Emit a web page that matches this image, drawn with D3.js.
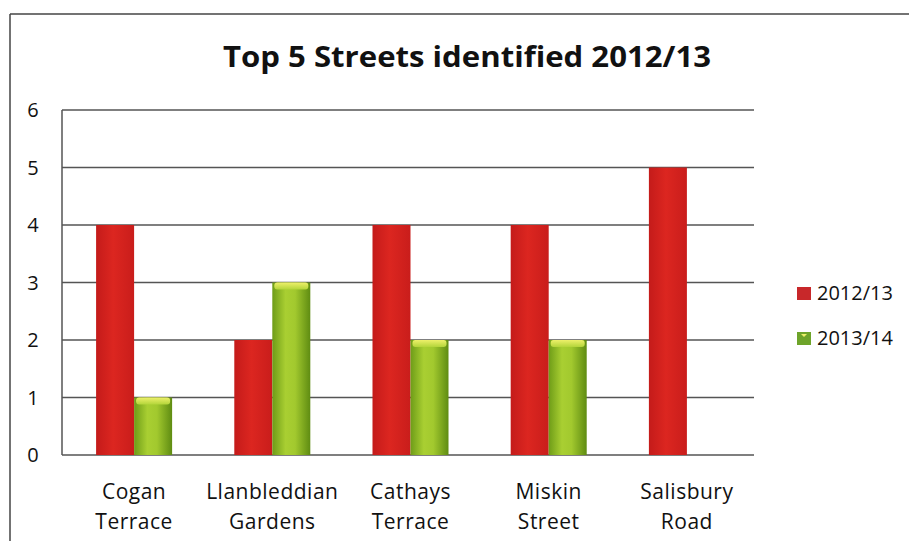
<!DOCTYPE html>
<html>
<head>
<meta charset="utf-8">
<script src="https://cdn.jsdelivr.net/npm/d3@7"></script>
<style>
  body { margin: 0; background: #fff; }
  svg { display: block; }
  text { font-family: "Open Sans", "DejaVu Sans", sans-serif; fill: #111; }
</style>
</head>
<body>
<svg id="chart" width="909" height="541"></svg>
<script>
// data
const streets = [["Cogan", "Terrace"], ["Llanbleddian", "Gardens"], ["Cathays", "Terrace"], ["Miskin", "Street"], ["Salisbury", "Road"]];
const seriesNames = ["2012/13", "2013/14"];
const values1213 = [4, 2, 4, 4, 5];
const values1314 = [1, 3, 2, 2, 0];
const yTicks = [0, 1, 2, 3, 4, 5, 6];

const svg = d3.select("#chart");

// outer frame (top and left edge only, like the scan)
svg.append("line").attr("x1", 10).attr("y1", 14).attr("x2", 909).attr("y2", 14)
    .attr("stroke", "#444").attr("stroke-width", 1.5);
svg.append("line").attr("x1", 10).attr("y1", 14).attr("x2", 10).attr("y2", 541)
    .attr("stroke", "#444").attr("stroke-width", 1.5);

// title
svg.append("text")
    .attr("x", 467).attr("y", 67)
    .attr("text-anchor", "middle")
    .style("font-size", "29px").style("font-weight", "bold")
    .attr("textLength", 488).attr("lengthAdjust", "spacingAndGlyphs")
    .text("Top 5 Streets identified 2012/13");

const plotLeft = 62, plotRight = 754;
const y = d3.scaleLinear().domain([0, 6]).range([455, 110]);
const x0 = d3.scaleBand().domain(d3.range(streets.length)).range([65, 756]).paddingInner(0.45).paddingOuter(0.225);
const x1 = d3.scaleBand().domain(seriesNames).range([0, x0.bandwidth()]);

// gradients for bars
const defs = svg.append("defs");
const redGrad = defs.append("linearGradient").attr("id", "redGrad");
[["0%", "#c41b1a"], ["45%", "#dc2620"], ["100%", "#c91d1b"]].forEach(([o, c]) =>
    redGrad.append("stop").attr("offset", o).attr("stop-color", c));
const greenGrad = defs.append("linearGradient").attr("id", "greenGrad");
[["0%", "#6e9c18"], ["35%", "#a9cf32"], ["60%", "#a2c92e"], ["100%", "#5f8c12"]].forEach(([o, c]) =>
    greenGrad.append("stop").attr("offset", o).attr("stop-color", c));
const greenTop = defs.append("linearGradient").attr("id", "greenTop").attr("x1", 0).attr("y1", 0).attr("x2", 0).attr("y2", 1);
[["0%", "#eef06a"], ["100%", "#b3d53a"]].forEach(([o, c]) =>
    greenTop.append("stop").attr("offset", o).attr("stop-color", c));

// gridlines
svg.append("g").selectAll("line").data(yTicks).enter().append("line")
    .attr("x1", plotLeft).attr("x2", plotRight)
    .attr("y1", (d) => y(d)).attr("y2", (d) => y(d))
    .attr("stroke", "#555").attr("stroke-width", 1.5);
svg.append("line").attr("x1", plotLeft).attr("x2", plotLeft).attr("y1", y(6)).attr("y2", y(0))
    .attr("stroke", "#555").attr("stroke-width", 1.5);

// y tick labels
svg.append("g").selectAll("text").data(yTicks).enter().append("text")
    .attr("x", 33).attr("y", (d) => y(d) + 7)
    .attr("text-anchor", "middle")
    .style("font-size", "20px")
    .text((d) => d);

// bars
const groups = svg.append("g").selectAll("g").data(streets).enter().append("g")
    .attr("transform", (d, i) => `translate(${x0(i)},0)`);

groups.append("rect")
    .attr("x", x1("2012/13"))
    .attr("y", (d, i) => y(values1213[i]))
    .attr("width", x1.bandwidth())
    .attr("height", (d, i) => y(0) - y(values1213[i]))
    .attr("fill", "url(#redGrad)");

const greens = groups.filter((d, i) => values1314[i] > 0);
greens.append("rect")
    .attr("x", x1("2013/14"))
    .attr("y", (d) => y(values1314[streets.indexOf(d)]))
    .attr("width", x1.bandwidth())
    .attr("height", (d) => y(0) - y(values1314[streets.indexOf(d)]))
    .attr("fill", "url(#greenGrad)");
greens.append("rect")
    .attr("x", x1("2013/14") + 2)
    .attr("y", (d) => y(values1314[streets.indexOf(d)]))
    .attr("width", x1.bandwidth() - 4)
    .attr("height", 7)
    .attr("rx", 3)
    .attr("fill", "url(#greenTop)");

// category labels
groups.append("text")
    .attr("x", x0.bandwidth() / 2)
    .attr("text-anchor", "middle")
    .style("font-size", "21px")
    .style("letter-spacing", "0.5px")
    .selectAll("tspan").data((d) => d).enter().append("tspan")
    .attr("x", x0.bandwidth() / 2)
    .attr("y", (d, i) => 499 + i * 30)
    .text((d) => d);

// legend
const legend = svg.append("g").selectAll("g").data(seriesNames).enter().append("g")
    .attr("transform", (d, i) => `translate(797,${287 + i * 45})`);
legend.append("rect").attr("width", 14).attr("height", 13)
    .attr("fill", (d, i) => (i === 0 ? "#c8282a" : "#6ea42a"));
legend.filter((d, i) => i === 1).append("path")
    .attr("d", "M4,2 L10,2 L7,5 Z").attr("fill", "#eef06a");
legend.append("text").attr("x", 20).attr("y", 13)
    .style("font-size", "20px")
    .text((d) => d);
</script>
</body>
</html>
